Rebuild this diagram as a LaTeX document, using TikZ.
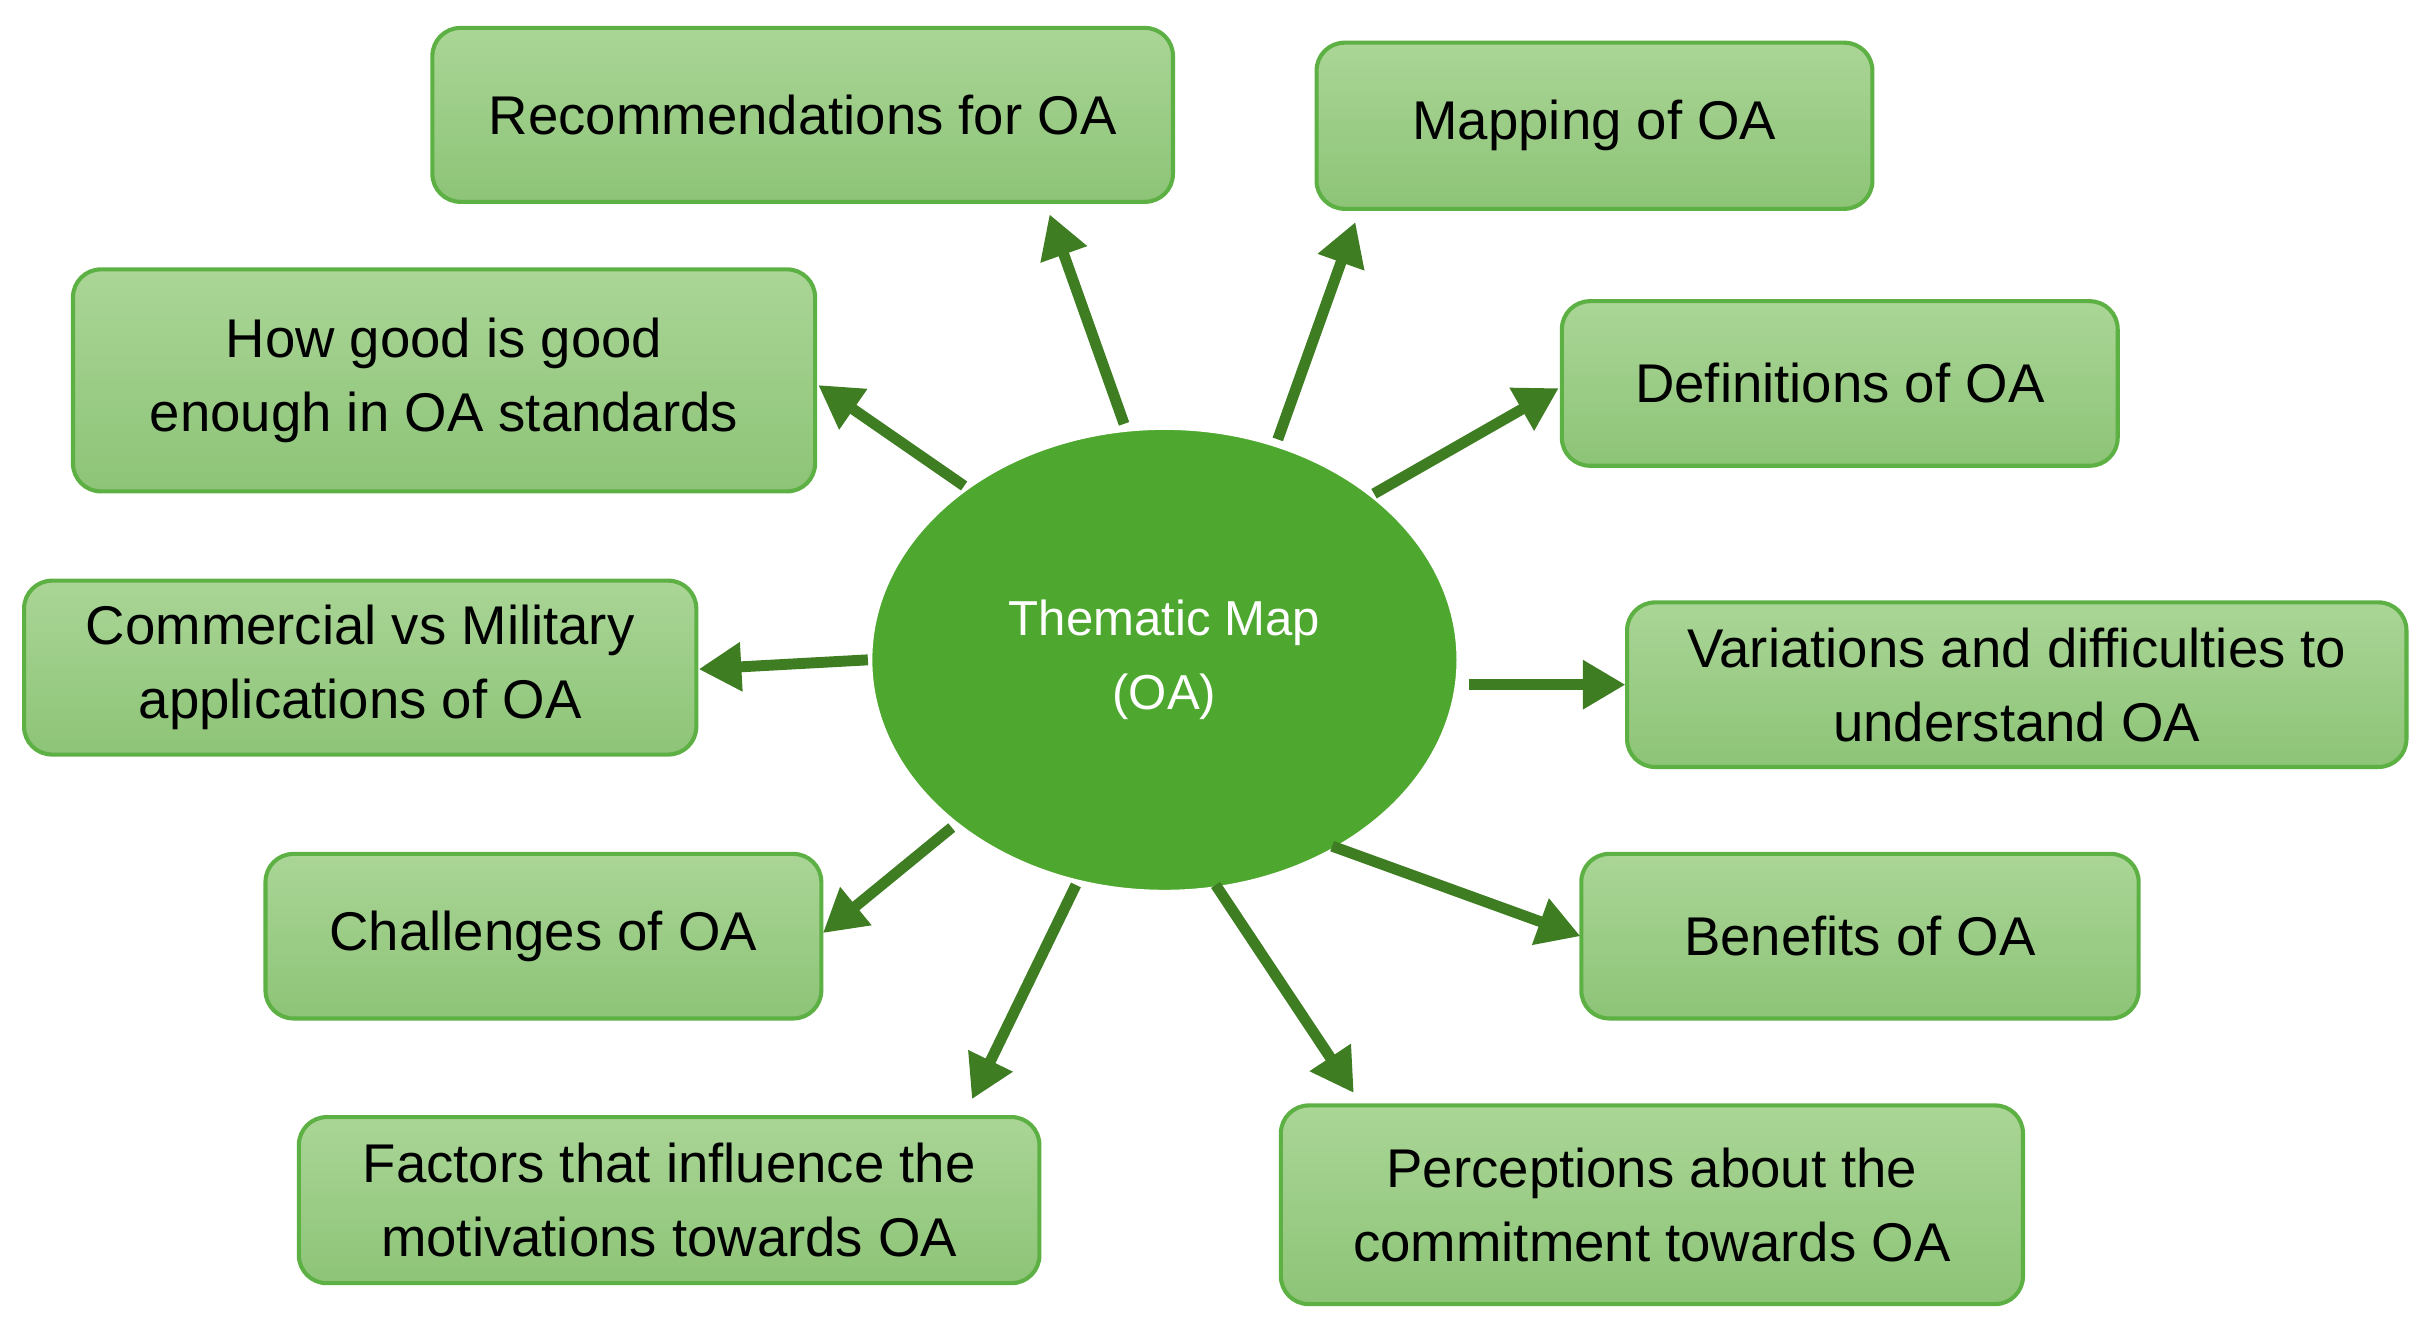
\documentclass[tikz,border=0pt]{standalone}
\usepackage{fontspec}
\setmainfont{Liberation Sans}
\usetikzlibrary{arrows.meta,shapes.geometric}
\definecolor{btop}{HTML}{AAD596}
\definecolor{bbot}{HTML}{8DC477}
\definecolor{bdraw}{HTML}{5DB043}
\definecolor{ell}{HTML}{4EA72E}
\definecolor{arr}{HTML}{3E7D22}
\begin{document}
\begin{tikzpicture}[x=0.02cm,y=-0.02cm,
  box/.style={draw=bdraw,line width=1.5pt,rounded corners=0.36cm,top color=btop,bottom color=bbot,
    minimum width=#1,align=center,font=\fontsize{20}{27}\selectfont,inner sep=0pt},
  ar/.style={draw=arr,line width=4pt,-{Triangle[length=0.55cm,width=0.6cm]}}]
\useasboundingbox (0,0) rectangle (1560,855);
\node[draw=white,line width=1pt,fill=ell,ellipse,minimum width=378*0.02cm,minimum height=298*0.02cm,
  text=white,align=center,font=\fontsize{18}{27}\selectfont] (c) at (750,425) {Thematic Map\\(OA)};
\node[box=477*0.02cm,minimum height=112*0.02cm] (b1) at (517,74) {Recommendations for OA};
\node[box=358*0.02cm,minimum height=107*0.02cm] (b2) at (1027,81) {Mapping of OA};
\node[box=478*0.02cm,minimum height=143*0.02cm] (b3) at (286,245) {How good is good\\enough in OA standards};
\node[box=358*0.02cm,minimum height=106*0.02cm] (b4) at (1185,247) {Definitions of OA};
\node[box=433*0.02cm,minimum height=112*0.02cm] (b5) at (232,430) {Commercial vs Military\\applications of OA};
\node[box=502*0.02cm,minimum height=106*0.02cm] (b6) at (1299,441) {Variations and difficulties to\\understand OA};
\node[box=358*0.02cm,minimum height=106*0.02cm] (b7) at (350,603) {Challenges of OA};
\node[box=359*0.02cm,minimum height=106*0.02cm] (b8) at (1198,603) {Benefits of OA};
\node[box=477*0.02cm,minimum height=107*0.02cm] (b9) at (431,773) {Factors that influence the\\motivations towards OA};
\node[box=478*0.02cm,minimum height=128*0.02cm] (b10) at (1064,776) {Perceptions about the\\commitment towards OA};
\coordinate (s1) at (724,273); \coordinate (e1) at (676,138);
\coordinate (s2) at (823,283); \coordinate (e2) at (873,143);
\coordinate (s3) at (621,313); \coordinate (e3) at (527,248);
\coordinate (s4) at (885,318); \coordinate (e4) at (1004,250);
\coordinate (s5) at (559,425); \coordinate (e5) at (450,431);
\coordinate (s6) at (946,441); \coordinate (e6) at (1047,441);
\coordinate (s7) at (613,533); \coordinate (e7) at (530,601);
\coordinate (s8) at (858,545); \coordinate (e8) at (1018,603);
\coordinate (s9) at (693,570); \coordinate (e9) at (626,708);
\coordinate (s10) at (783,570); \coordinate (e10) at (872,704);
\foreach \i in {1,...,10} \draw[ar] (s\i) -- (e\i);
\end{tikzpicture}
\end{document}
